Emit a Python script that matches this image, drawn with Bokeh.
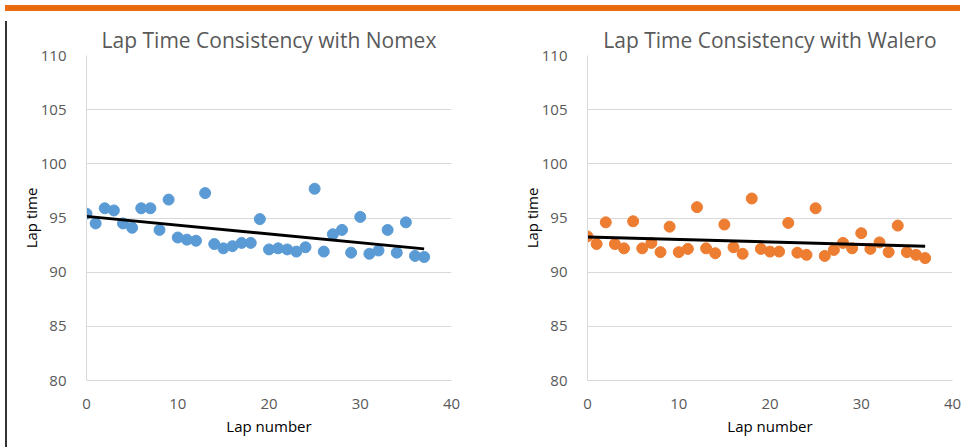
from bokeh.plotting import figure
from bokeh.models import Div, FixedTicker, ColumnDataSource
from bokeh.layouts import row, column
from bokeh.embed import file_html
from bokeh.resources import INLINE

laps = [0, 1, 2, 3, 4, 5, 6, 7, 8, 9, 10, 11, 12, 13, 14, 15, 16, 17, 18, 19,
        20, 21, 22, 23, 24, 25, 26, 27, 28, 29, 30, 31, 32, 33, 34, 35, 36, 37]

nomex = [95.4, 94.5, 95.9, 95.7, 94.5, 94.1, 95.9, 95.9, 93.9, 96.7,
         93.2, 93.0, 92.9, 97.3, 92.6, 92.2, 92.4, 92.7, 92.7, 94.9,
         92.1, 92.2, 92.1, 91.9, 92.3, 97.7, 91.9, 93.5, 93.9, 91.8,
         95.1, 91.7, 92.0, 93.9, 91.8, 94.6, 91.5, 91.4]

walero = [93.3, 92.6, 94.6, 92.6, 92.2, 94.7, 92.2, 92.7, 91.85, 94.2,
          91.85, 92.15, 96.0, 92.2, 91.75, 94.4, 92.3, 91.7, 96.8, 92.15,
          91.9, 91.9, 94.55, 91.8, 91.6, 95.9, 91.5, 92.05, 92.7, 92.2,
          93.6, 92.15, 92.75, 91.85, 94.3, 91.85, 91.6, 91.3]

trend_x = [0, 37]
nomex_trend = [95.15, 92.15]
walero_trend = [93.25, 92.4]

x_ticks = [0, 10, 20, 30, 40]
y_ticks = [80, 85, 90, 95, 100, 105, 110]

titles = ["Lap Time Consistency with Nomex", "Lap Time Consistency with Walero"]
colors = ["#5B9BD5", "#ED7D31"]

FONT = "Open Sans"


def make_plot(title, ys, trend, color, width, left, right):
    p = figure(width=width, height=426, x_range=(0, 40), y_range=(80, 110),
               output_backend="svg", toolbar_location=None,
               min_border_left=left, min_border_right=right,
               min_border_top=39, min_border_bottom=62)
    p.title.text = title
    p.title.align = "center"
    p.title.text_font = FONT
    p.title.text_font_size = "21px"
    p.title.text_font_style = "normal"
    p.title.text_color = "#595959"
    p.title.offset = 0
    p.title.standoff = 4
    p.outline_line_color = None
    p.background_fill_color = "white"
    p.border_fill_color = "white"

    p.xgrid.grid_line_color = None
    p.ygrid.grid_line_color = "#D9D9D9"
    p.ygrid.grid_line_width = 1

    p.xaxis.ticker = FixedTicker(ticks=x_ticks)
    p.yaxis.ticker = FixedTicker(ticks=y_ticks)
    for ax in (p.xaxis[0], p.yaxis[0]):
        ax.major_tick_line_color = None
        ax.minor_tick_line_color = None
        ax.axis_line_color = "#D9D9D9"
        ax.major_label_text_font = FONT
        ax.major_label_text_font_size = "15px"
        ax.major_label_text_color = "#595959"
        ax.axis_label_text_font = FONT
        ax.axis_label_text_font_size = "15px"
        ax.axis_label_text_font_style = "normal"
        ax.axis_label_text_color = "#000000"
    p.xaxis.axis_label = "Lap number"
    p.yaxis.axis_label = "Lap time"
    p.xaxis.major_label_standoff = 12
    p.xaxis.axis_label_standoff = 4
    p.yaxis.major_label_standoff = 14
    p.yaxis.axis_label_standoff = -3

    src = ColumnDataSource(dict(x=laps, y=ys))
    p.scatter("x", "y", source=src, size=11, color=color, line_color=color)
    p.line(trend_x, trend, line_color="black", line_width=3)
    return p


p1 = make_plot(titles[0], nomex, nomex_trend, colors[0], 490, 74, 51)
p2 = make_plot(titles[1], walero, walero_trend, colors[1], 463, 85, 13)

bar = Div(text="", width=955, height=6,
          styles={"background-color": "#EA6A0E"})
edge = Div(text="", width=2, height=426,
           styles={"background-color": "#333333"})

layout = column(bar, row(edge, p1, p2, spacing=0), spacing=0)

open("out.html", "w").write(file_html(layout, INLINE))
